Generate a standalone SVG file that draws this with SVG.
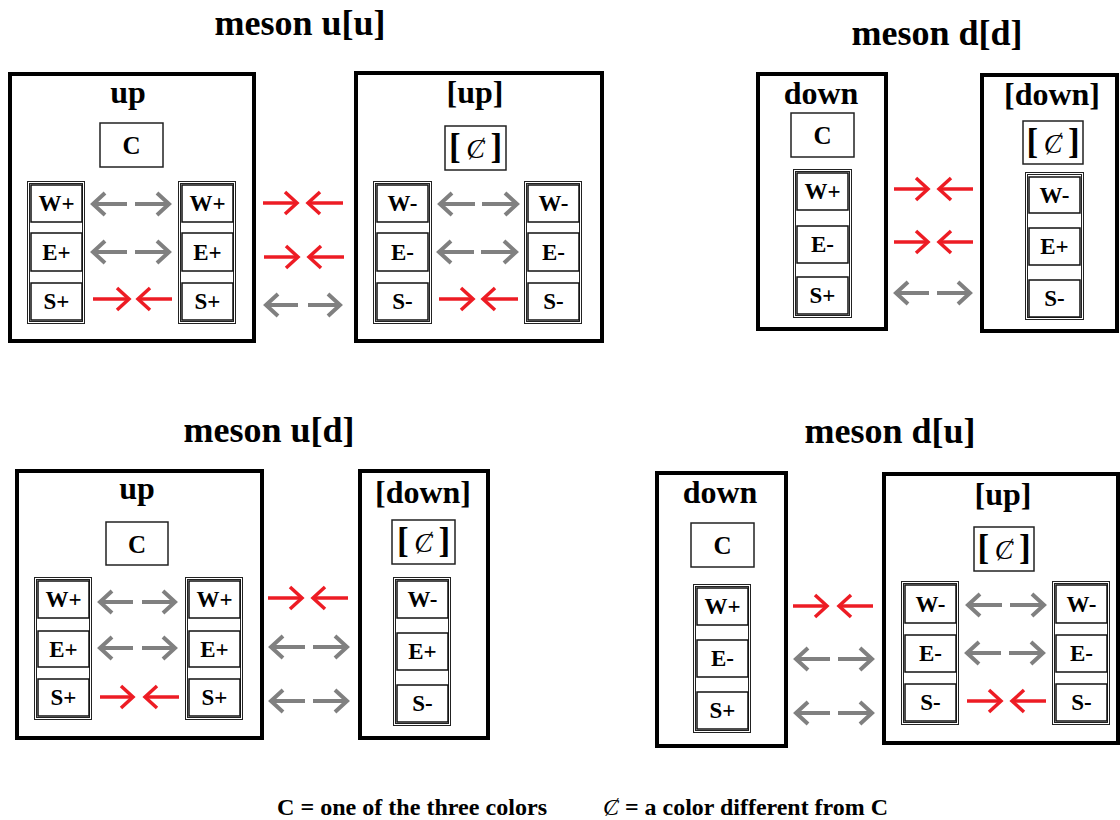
<svg xmlns="http://www.w3.org/2000/svg" width="1120" height="820" viewBox="0 0 1120 820">
<style>
.bg{fill:#fff}
.box{fill:#fff;stroke:#000;stroke-width:4}
.cbox{fill:#fff;stroke:#222;stroke-width:1.5}
.col{fill:none;stroke:#222;stroke-width:1;shape-rendering:crispEdges}
.cell{fill:#fff;stroke:#111;stroke-width:1.5}
text{font-family:"Liberation Serif","DejaVu Serif",serif;font-weight:bold;fill:#000;text-anchor:middle}
.title{font-size:36px}
.head{font-size:32px}
.lbl{font-size:23px}
.cc{font-size:25px}
.cs{font-size:35px}
.slash{font-size:28px;font-style:italic;font-weight:normal}
.legend{font-size:23px;text-anchor:start}
.ar{stroke:#ED1C24;stroke-width:3.5;fill:none;marker-end:url(#mr)}
.ag{stroke:#808080;stroke-width:4;fill:none;marker-end:url(#mg)}
</style>
<defs>
<marker id="mg" markerUnits="userSpaceOnUse" viewBox="-16 -14 22 28" markerWidth="22" markerHeight="28" refX="0" refY="0" orient="auto"><path d="M-12,-11 L0,0 L-12,11" fill="none" stroke="#808080" stroke-width="4"/></marker>
<marker id="mr" markerUnits="userSpaceOnUse" viewBox="-16 -14 22 28" markerWidth="22" markerHeight="28" refX="0" refY="0" orient="auto"><path d="M-12,-11 L0,0 L-12,11" fill="none" stroke="#ED1C24" stroke-width="3.5"/></marker>
</defs>
<rect class="bg" x="0" y="0" width="1120" height="820"/>

<g id="titles">
<text class="title" x="300" y="35">meson u[u]</text>
<text class="title" x="937" y="45">meson d[d]</text>
<text class="title" x="269" y="442">meson u[d]</text>
<text class="title" x="890" y="443">meson d[u]</text>
</g>

<!-- meson u[u] -->
<g id="uu-up">
<rect class="box" x="10" y="74" width="244" height="267"/>
<text class="head" x="128" y="103">up</text>
<rect class="cbox" x="100" y="123" width="63" height="44"/>
<text class="cc" x="131.5" y="154">C</text>
<rect class="col" x="27.5" y="181.5" width="57" height="142"/><rect class="col" x="29.5" y="183.5" width="53" height="138"/>
<rect class="cell" x="31" y="185" width="51" height="37"/><text class="lbl" x="56.5" y="211">W+</text>
<rect class="cell" x="31" y="233" width="51" height="38"/><text class="lbl" x="56.5" y="260">E+</text>
<rect class="cell" x="31" y="283" width="51" height="37"/><text class="lbl" x="56.5" y="309">S+</text>
<rect class="col" x="178.5" y="181.5" width="57" height="142"/><rect class="col" x="180.5" y="183.5" width="53" height="138"/>
<rect class="cell" x="182" y="185" width="51" height="37"/><text class="lbl" x="207.5" y="211">W+</text>
<rect class="cell" x="182" y="233" width="51" height="38"/><text class="lbl" x="207.5" y="260">E+</text>
<rect class="cell" x="182" y="283" width="51" height="37"/><text class="lbl" x="207.5" y="309">S+</text>
</g>
<g id="uu-antiup">
<rect class="box" x="356" y="73" width="246" height="268"/>
<text class="head" x="475" y="103">[up]</text>
<rect class="cbox" x="445" y="126" width="61" height="44"/>
<text class="cs" x="475.5" y="158">[<tspan class="slash">&#8201;Ȼ&#8201;</tspan>]</text>
<rect class="col" x="373.5" y="181.5" width="58" height="142"/><rect class="col" x="375.5" y="183.5" width="54" height="138"/>
<rect class="cell" x="377" y="185" width="51" height="37"/><text class="lbl" x="402.5" y="211">W-</text>
<rect class="cell" x="377" y="233" width="51" height="38"/><text class="lbl" x="402.5" y="260">E-</text>
<rect class="cell" x="377" y="283" width="51" height="37"/><text class="lbl" x="402.5" y="309">S-</text>
<rect class="col" x="524.5" y="181.5" width="57" height="142"/><rect class="col" x="526.5" y="183.5" width="53" height="138"/>
<rect class="cell" x="528" y="185" width="51" height="37"/><text class="lbl" x="553.5" y="211">W-</text>
<rect class="cell" x="528" y="233" width="51" height="38"/><text class="lbl" x="553.5" y="260">E-</text>
<rect class="cell" x="528" y="283" width="51" height="37"/><text class="lbl" x="553.5" y="309">S-</text>
</g>

<!-- meson d[d] -->
<g id="dd-down">
<rect class="box" x="758" y="74" width="128" height="255"/>
<text class="head" x="821" y="104">down</text>
<rect class="cbox" x="791" y="113" width="63" height="44"/>
<text class="cc" x="822.5" y="144">C</text>
<rect class="col" x="793.5" y="169.5" width="58" height="148"/><rect class="col" x="795.5" y="171.5" width="54" height="144"/>
<rect class="cell" x="797" y="173" width="51" height="37"/><text class="lbl" x="822.5" y="199">W+</text>
<rect class="cell" x="797" y="226" width="51" height="37"/><text class="lbl" x="822.5" y="252">E-</text>
<rect class="cell" x="797" y="277" width="51" height="37"/><text class="lbl" x="822.5" y="303">S+</text>
</g>
<g id="dd-antidown">
<rect class="box" x="982" y="75" width="135" height="256"/>
<text class="head" x="1052" y="105">[down]</text>
<rect class="cbox" x="1023" y="121" width="60" height="43"/>
<text class="cs" x="1053" y="153">[<tspan class="slash">&#8201;Ȼ&#8201;</tspan>]</text>
<rect class="col" x="1025.5" y="172.5" width="58" height="147"/><rect class="col" x="1027.5" y="174.5" width="54" height="143"/>
<rect class="cell" x="1029" y="177" width="51" height="36"/><text class="lbl" x="1054.5" y="203">W-</text>
<rect class="cell" x="1029" y="228" width="51" height="37"/><text class="lbl" x="1054.5" y="254">E+</text>
<rect class="cell" x="1029" y="280" width="51" height="37"/><text class="lbl" x="1054.5" y="306">S-</text>
</g>

<!-- meson u[d] -->
<g id="ud-up">
<rect class="box" x="17" y="471" width="245" height="267"/>
<text class="head" x="137" y="499">up</text>
<rect class="cbox" x="106" y="522" width="62" height="43"/>
<text class="cc" x="137" y="553">C</text>
<rect class="col" x="34.5" y="577.5" width="57" height="142"/><rect class="col" x="36.5" y="579.5" width="53" height="138"/>
<rect class="cell" x="38" y="581" width="51" height="37"/><text class="lbl" x="63.5" y="607">W+</text>
<rect class="cell" x="38" y="631" width="51" height="36"/><text class="lbl" x="63.5" y="657">E+</text>
<rect class="cell" x="38" y="679" width="51" height="37"/><text class="lbl" x="63.5" y="705">S+</text>
<rect class="col" x="185.5" y="577.5" width="57" height="142"/><rect class="col" x="187.5" y="579.5" width="53" height="138"/>
<rect class="cell" x="189" y="581" width="51" height="37"/><text class="lbl" x="214.5" y="607">W+</text>
<rect class="cell" x="189" y="631" width="51" height="36"/><text class="lbl" x="214.5" y="657">E+</text>
<rect class="cell" x="189" y="679" width="51" height="37"/><text class="lbl" x="214.5" y="705">S+</text>
</g>
<g id="ud-antidown">
<rect class="box" x="360" y="471" width="128" height="267"/>
<text class="head" x="423" y="503">[down]</text>
<rect class="cbox" x="392" y="520" width="63" height="44"/>
<text class="cs" x="423.5" y="552">[<tspan class="slash">&#8201;Ȼ&#8201;</tspan>]</text>
<rect class="col" x="393.5" y="577.5" width="57" height="148"/><rect class="col" x="395.5" y="579.5" width="53" height="144"/>
<rect class="cell" x="397" y="581" width="51" height="37"/><text class="lbl" x="422.5" y="607">W-</text>
<rect class="cell" x="397" y="633" width="51" height="37"/><text class="lbl" x="422.5" y="659">E+</text>
<rect class="cell" x="397" y="685" width="51" height="37"/><text class="lbl" x="422.5" y="711">S-</text>
</g>

<!-- meson d[u] -->
<g id="du-down">
<rect class="box" x="657" y="473" width="129" height="273"/>
<text class="head" x="720" y="503">down</text>
<rect class="cbox" x="691" y="523" width="63" height="44"/>
<text class="cc" x="722.5" y="554">C</text>
<rect class="col" x="693.5" y="584.5" width="57" height="148"/><rect class="col" x="695.5" y="586.5" width="53" height="144"/>
<rect class="cell" x="697" y="588" width="51" height="37"/><text class="lbl" x="722.5" y="614">W+</text>
<rect class="cell" x="697" y="640" width="51" height="37"/><text class="lbl" x="722.5" y="666">E-</text>
<rect class="cell" x="697" y="692" width="51" height="37"/><text class="lbl" x="722.5" y="718">S+</text>
</g>
<g id="du-antiup">
<rect class="box" x="884" y="474" width="234" height="269"/>
<text class="head" x="1003" y="505">[up]</text>
<rect class="cbox" x="974" y="527" width="60" height="44"/>
<text class="cs" x="1004" y="559">[<tspan class="slash">&#8201;Ȼ&#8201;</tspan>]</text>
<rect class="col" x="901.5" y="581.5" width="57" height="143"/><rect class="col" x="903.5" y="583.5" width="53" height="139"/>
<rect class="cell" x="905" y="585" width="51" height="38"/><text class="lbl" x="930.5" y="612">W-</text>
<rect class="cell" x="905" y="635" width="51" height="37"/><text class="lbl" x="930.5" y="661">E-</text>
<rect class="cell" x="905" y="684" width="51" height="37"/><text class="lbl" x="930.5" y="710">S-</text>
<rect class="col" x="1052.5" y="581.5" width="57" height="143"/><rect class="col" x="1054.5" y="583.5" width="53" height="139"/>
<rect class="cell" x="1056" y="585" width="51" height="38"/><text class="lbl" x="1081.5" y="612">W-</text>
<rect class="cell" x="1056" y="635" width="51" height="37"/><text class="lbl" x="1081.5" y="661">E-</text>
<rect class="cell" x="1056" y="684" width="51" height="37"/><text class="lbl" x="1081.5" y="710">S-</text>
</g>

<g id="connectors">
<!-- u[u] intra up -->
<line class="ag" x1="127" y1="204" x2="93" y2="204"/><line class="ag" x1="135" y1="204" x2="169" y2="204"/>
<line class="ag" x1="127" y1="252" x2="93" y2="252"/><line class="ag" x1="135" y1="252" x2="169" y2="252"/>
<line class="ar" x1="93" y1="299" x2="129" y2="299"/><line class="ar" x1="172" y1="299" x2="138" y2="299"/>
<!-- u[u] between -->
<line class="ar" x1="263" y1="203" x2="297" y2="203"/><line class="ar" x1="343" y1="203" x2="308" y2="203"/>
<line class="ar" x1="264" y1="257" x2="298" y2="257"/><line class="ar" x1="344" y1="257" x2="309" y2="257"/>
<line class="ag" x1="298" y1="305" x2="266" y2="305"/><line class="ag" x1="308" y1="305" x2="340" y2="305"/>
<!-- u[u] intra antiup -->
<line class="ag" x1="475" y1="204" x2="440" y2="204"/><line class="ag" x1="482" y1="204" x2="517" y2="204"/>
<line class="ag" x1="474" y1="252" x2="439" y2="252"/><line class="ag" x1="481" y1="252" x2="516" y2="252"/>
<line class="ar" x1="439" y1="299" x2="473" y2="299"/><line class="ar" x1="518" y1="299" x2="483" y2="299"/>
<!-- d[d] between -->
<line class="ar" x1="894" y1="189" x2="928" y2="189"/><line class="ar" x1="973" y1="189" x2="939" y2="189"/>
<line class="ar" x1="894" y1="242" x2="928" y2="242"/><line class="ar" x1="973" y1="242" x2="939" y2="242"/>
<line class="ag" x1="929" y1="293" x2="896" y2="293"/><line class="ag" x1="937" y1="293" x2="970" y2="293"/>
<!-- u[d] intra up -->
<line class="ag" x1="133" y1="602" x2="100" y2="602"/><line class="ag" x1="142" y1="602" x2="175" y2="602"/>
<line class="ag" x1="133" y1="648" x2="100" y2="648"/><line class="ag" x1="142" y1="648" x2="175" y2="648"/>
<line class="ar" x1="100" y1="697" x2="133" y2="697"/><line class="ar" x1="179" y1="697" x2="145" y2="697"/>
<!-- u[d] between -->
<line class="ar" x1="268" y1="598" x2="302" y2="598"/><line class="ar" x1="348" y1="598" x2="313" y2="598"/>
<line class="ag" x1="305" y1="647" x2="271" y2="647"/><line class="ag" x1="313" y1="647" x2="347" y2="647"/>
<line class="ag" x1="305" y1="701" x2="271" y2="701"/><line class="ag" x1="313" y1="701" x2="347" y2="701"/>
<!-- d[u] between -->
<line class="ar" x1="793" y1="606" x2="827" y2="606"/><line class="ar" x1="873" y1="606" x2="839" y2="606"/>
<line class="ag" x1="830" y1="659" x2="796" y2="659"/><line class="ag" x1="838" y1="659" x2="872" y2="659"/>
<line class="ag" x1="830" y1="713" x2="796" y2="713"/><line class="ag" x1="838" y1="713" x2="872" y2="713"/>
<!-- d[u] intra antiup -->
<line class="ag" x1="1002" y1="605" x2="968" y2="605"/><line class="ag" x1="1010" y1="605" x2="1044" y2="605"/>
<line class="ag" x1="1001" y1="653" x2="967" y2="653"/><line class="ag" x1="1009" y1="653" x2="1043" y2="653"/>
<line class="ar" x1="967" y1="701" x2="1001" y2="701"/><line class="ar" x1="1046" y1="701" x2="1012" y2="701"/>
</g>

<g id="legend">
<text class="legend" x="277" y="815" textLength="270" lengthAdjust="spacingAndGlyphs">C = one of the three colors</text>
<text class="legend" x="603" y="815" textLength="285" lengthAdjust="spacingAndGlyphs"><tspan font-style="italic" font-weight="normal">Ȼ</tspan> = a color different from C</text>
</g>
</svg>
